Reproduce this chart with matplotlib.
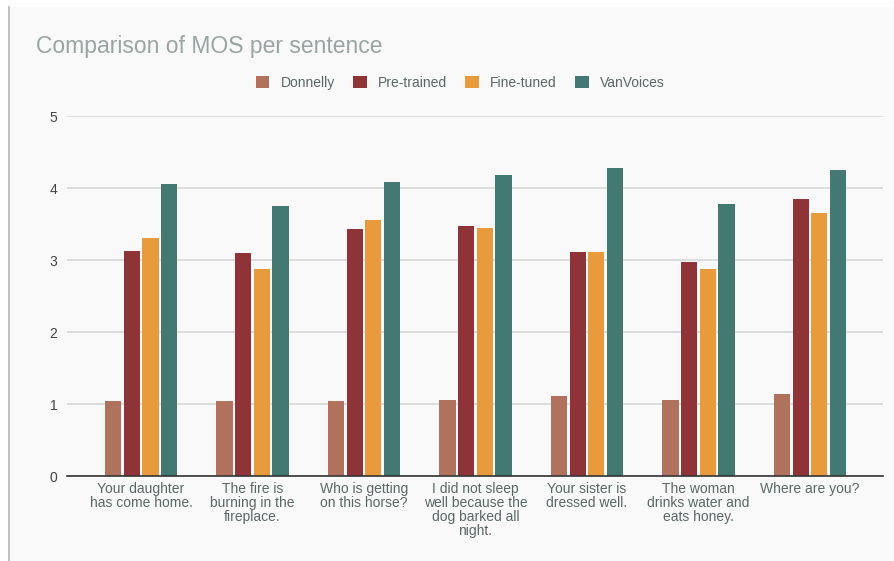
import numpy as np
import matplotlib.pyplot as plt
from matplotlib.patches import Rectangle, Patch

plt.rcParams['font.family'] = ['Liberation Sans', 'DejaVu Sans']

# data
sentences = ["Your daughter\nhas come home.",
             "The fire is\nburning in the\nfireplace.",
             "Who is getting\non this horse?",
             "I did not sleep\nwell because the\ndog barked all\nnight.",
             "Your sister is\ndressed well.",
             "The woman\ndrinks water and\neats honey.",
             "Where are you?"]
series = ["Donnelly", "Pre-trained", "Fine-tuned", "VanVoices"]
donnelly = [1.04, 1.04, 1.04, 1.06, 1.11, 1.06, 1.14]
pretrained = [3.13, 3.10, 3.43, 3.47, 3.11, 2.97, 3.85]
finetuned = [3.31, 2.88, 3.56, 3.44, 3.11, 2.88, 3.65]
vanvoices = [4.06, 3.75, 4.09, 4.18, 4.28, 3.78, 4.25]
yticks = [0, 1, 2, 3, 4, 5]

colors = ['#b0725c', '#8e3439', '#e89b3c', '#447873']
txt = '#5b6766'

fig = plt.figure(figsize=(8.94, 5.61), dpi=100)
fig.patch.set_facecolor('white')
# chart background card
fig.add_artist(Rectangle((8/894, 0), 1, 1 - 7/561, transform=fig.transFigure,
                         facecolor='#f9f9f9', edgecolor='none', zorder=-10))
fig.add_artist(plt.Line2D([8.5/894, 8.5/894], [0, 1 - 7/561], transform=fig.transFigure,
                          color='#b5b5b5', lw=1.2, zorder=-9))

ax = fig.add_axes([67/894, 1 - 476/561, 816/894, 360/561])
ax.set_facecolor('none')

x = np.arange(len(sentences))
step = 0.1674
bw = 0.146
for i, vals in enumerate([donnelly, pretrained, finetuned, vanvoices]):
    ax.bar(x + (i - 1.5) * step, vals, width=bw, color=colors[i], zorder=3)

ax.set_xlim(-0.664, 6.655)
ax.set_ylim(0, 5)
ax.set_yticks(yticks)
ax.yaxis.grid(True, color='#d9d9d9', lw=1.3, zorder=0)
for s in ['top', 'right', 'left']:
    ax.spines[s].set_visible(False)
ax.spines['bottom'].set_color('#333333')
ax.spines['bottom'].set_linewidth(1.2)
ax.spines['bottom'].set_zorder(4)
ax.tick_params(axis='y', length=0, pad=7, labelsize=10, labelcolor='#444444')
ax.set_xticks(x)
ax.set_xticklabels(sentences, fontsize=10, color=txt, linespacing=1.0)
ax.tick_params(axis='x', length=0, pad=4)

fig.text(36/894, 1 - 46/561, "Comparison of MOS per sentence", fontsize=16.5,
         color='#9aa5a3', va='center', ha='left')

handles = [Patch(facecolor=c, edgecolor='none') for c in colors]
fig.legend(handles, series, loc='center', bbox_to_anchor=(460/894, 1 - 83/561), ncol=4,
           frameon=False, fontsize=10, labelcolor=txt, handlelength=1.0, handleheight=1.0,
           handletextpad=0.8, columnspacing=1.3)

plt.savefig('out.png', dpi=100)
